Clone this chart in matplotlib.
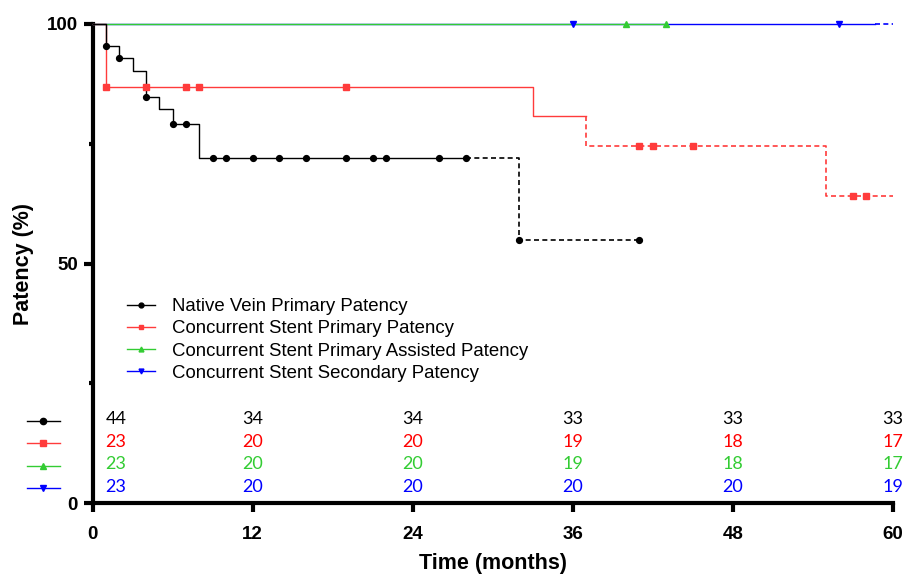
"""
Kaplan-Meier patency curves with number-at-risk rows underneath.
"""

import matplotlib
matplotlib.use('Agg')
import matplotlib.pyplot as plt
from matplotlib.ticker import MultipleLocator
import numpy as np

plt.rcParams['font.family'] = ['Liberation Sans', 'DejaVu Sans']

# ── Data ───────────────────────────────────────────────────────────────────

labels = ['Native Vein Primary Patency',
          'Concurrent Stent Primary Patency',
          'Concurrent Stent Primary Assisted Patency',
          'Concurrent Stent Secondary Patency']

# step curves: event times (months) and patency (%) after each event
nv_time = [0, 1, 2, 3, 4, 5, 6, 8, 32]
nv_surv = [100, 95.4, 92.8, 90.2, 84.8, 82.2, 79.2, 72.0, 54.9]
nv_cens = [1, 2, 4, 6, 7, 9, 10, 12, 14, 16, 19, 21, 22, 26, 28, 32, 41]

csp_time = [0, 1, 33, 37, 55]
csp_surv = [100, 86.8, 80.7, 74.5, 64.2]
csp_cens = [1, 4, 7, 8, 19, 41, 42, 45, 57, 58]

cspa_time = [0]
cspa_surv = [100]
cspa_cens = [40, 43]

css_time = [0]
css_surv = [100]
css_cens = [36, 56]

# where each curve switches to dashed, and where it ends
split_at = [28, 37, None, 58.7]
end_at = [41, 60, 43, 60]

# number at risk
risk_months = [0, 12, 24, 36, 48, 60]
risk_nv = [44, 34, 34, 33, 33, 33]
risk_csp = [23, 20, 20, 19, 18, 17]
risk_cspa = [23, 20, 20, 19, 18, 17]
risk_css = [23, 20, 20, 20, 20, 19]

# ── Styling ────────────────────────────────────────────────────────────────

line_colors = ['black', '#FF3B3B', '#33CC33', '#0000FF']
text_colors = ['black', '#FF0000', '#33CC33', '#0000FF']
markers = ['o', 's', '^', 'v']
msizes = [4.2, 4.5, 4.5, 4.5]


def step_at(times, surv, t):
    idx = np.searchsorted(times, t, side='right') - 1
    return np.asarray(surv)[idx]


def split_step(times, surv, t_split, t_end):
    times = np.asarray(times, float)
    surv = np.asarray(surv, float)
    if t_split is None:
        return (np.r_[times, t_end], np.r_[surv, surv[-1]]), None
    s_before = surv[np.searchsorted(times, t_split, side='left') - 1]
    m1 = times < t_split
    m2 = times >= t_split
    x1 = np.r_[times[m1], t_split]
    y1 = np.r_[surv[m1], s_before]
    last = surv[m2][-1] if m2.any() else s_before
    x2 = np.r_[t_split, times[m2], t_end]
    y2 = np.r_[s_before, surv[m2], last]
    return (x1, y1), (x2, y2)


fig = plt.figure(figsize=(9.04, 5.75), dpi=100)
ax = fig.add_axes([0.1025, 0.1247, 0.885, 0.8336])

series = [(nv_time, nv_surv, nv_cens),
          (csp_time, csp_surv, csp_cens),
          (cspa_time, cspa_surv, cspa_cens),
          (css_time, css_surv, css_cens)]

# draw blue first so black sits on top
for i in [3, 2, 1, 0]:
    t, s, c = series[i]
    solid, dashed = split_step(t, s, split_at[i], end_at[i])
    z = 3 + (3 - i) * 0.1
    ax.step(*solid, where='post', color=line_colors[i], lw=1.0, zorder=z,
            clip_on=False)
    if dashed is not None:
        ax.step(*dashed, where='post', color=line_colors[i], lw=1.2,
                ls=(0, (3, 2)), zorder=z, clip_on=False)

for i in [3, 2, 1, 0]:
    t, s, c = series[i]
    ax.plot(c, step_at(t, s, c), ls='none', marker=markers[i],
            ms=msizes[i], color=line_colors[i], zorder=5, clip_on=False)

# legend
handles = [plt.Line2D([], [], color=line_colors[i], lw=1.0,
                      marker=markers[i], ms=3.5) for i in range(4)]
ax.legend(handles, labels, loc='center left',
          bbox_to_anchor=(0.0425, 0.3407), frameon=False, fontsize=13.4,
          handlelength=1.52, handletextpad=0.9, labelspacing=0.28,
          borderpad=0, borderaxespad=0)

# number at risk rows
risk_rows = [risk_nv, risk_csp, risk_cspa, risk_css]
row_y = [17.5, 12.8, 8.1, 3.4]
col_x = [1.75] + risk_months[1:]
for r, (vals, yy) in enumerate(zip(risk_rows, row_y)):
    for xx, v in zip(col_x, vals):
        ax.text(xx, yy, str(v), ha='center', va='center', fontsize=13,
                color=text_colors[r], family=['Lato', 'DejaVu Sans'])
    ax.plot([-4.93, -2.45], [yy - 0.3, yy - 0.3], color=line_colors[r],
            lw=1.0, clip_on=False)
    ax.plot([-3.69], [yy - 0.3], marker=markers[r], ms=4.5,
            color=line_colors[r], clip_on=False)

# axes
ax.set_xlim(0, 60)
ax.set_ylim(0, 100)
ax.set_xticks(risk_months)
ax.set_yticks([0, 50, 100])
ax.yaxis.set_minor_locator(MultipleLocator(25))
for side in ['top', 'right']:
    ax.spines[side].set_visible(False)
for side in ['left', 'bottom']:
    ax.spines[side].set_linewidth(3)
ax.tick_params(axis='both', which='major', width=3, length=6.5,
               labelsize=13.5, pad=4)
ax.tick_params(axis='x', which='major', pad=10)
ax.tick_params(axis='y', which='minor', width=3, length=3)
for lab in ax.get_xticklabels() + ax.get_yticklabels():
    lab.set_fontweight('bold')

ax.set_xlabel('Time (months)', fontsize=15.5, fontweight='bold', labelpad=7)
ax.set_ylabel('Patency (%)', fontsize=15.5, fontweight='bold', labelpad=9)

plt.savefig('out.png', dpi=100)
plt.close()
